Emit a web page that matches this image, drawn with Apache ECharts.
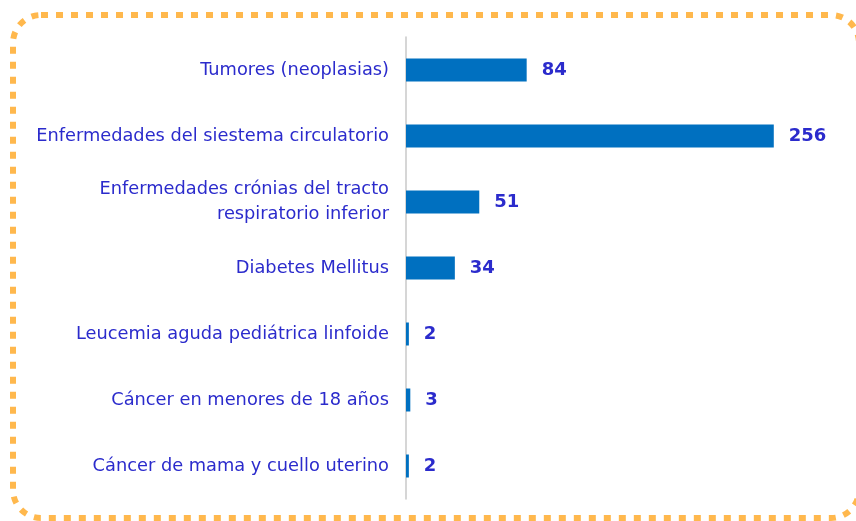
<!DOCTYPE html>
<html>
<head>
<meta charset="utf-8">
<script src="https://cdn.jsdelivr.net/npm/echarts@6/dist/echarts.min.js"></script>
<style>
  html, body { margin: 0; padding: 0; background: #fff; }
  #main { width: 856px; height: 521px; }
</style>
</head>
<body>
<div id="main"></div>
<script>
// categories top to bottom
var categories = [
  'Tumores (neoplasias)',
  'Enfermedades del siestema circulatorio',
  'Enfermedades crónias del tracto\nrespiratorio inferior',
  'Diabetes Mellitus',
  'Leucemia aguda pediátrica linfoide',
  'Cáncer en menores de 18 años',
  'Cáncer de mama y cuello uterino'
];
var values = [84, 256, 51, 34, 2, 3, 2];

var textColor = '#2b2bcc';

var chartDom = document.getElementById('main');
var myChart = echarts.init(chartDom);
var option;

option = {
  backgroundColor: '#fff',
  animation: false,
  grid: {
    left: 406,
    right: 19,
    top: 37,
    bottom: 22
  },
  xAxis: {
    type: 'value',
    min: 0,
    max: 300,
    show: false
  },
  yAxis: {
    type: 'category',
    inverse: true,
    data: categories,
    axisLine: { show: true, lineStyle: { color: '#c8c8c8', width: 1.5 } },
    axisTick: { show: false },
    axisLabel: {
      margin: 17,
      color: textColor,
      fontFamily: 'DejaVu Sans',
      fontSize: 17.8,
      lineHeight: 25,
      align: 'right'
    }
  },
  series: [
    {
      type: 'bar',
      data: values,
      barWidth: 23,
      itemStyle: { color: '#0070c0' },
      label: {
        show: true,
        position: 'right',
        distance: 15,
        color: textColor,
        fontFamily: 'DejaVu Sans',
        fontWeight: 'bold',
        fontSize: 18
      }
    }
  ],
  graphic: [
    {
      type: 'rect',
      shape: { x: 13, y: 15, width: 846, height: 503, r: 28 },
      style: {
        fill: 'none',
        stroke: '#ffb84d',
        lineWidth: 6,
        lineDash: [7, 8]
      },
      z: 10
    }
  ]
};

option && myChart.setOption(option);
</script>
</body>
</html>
